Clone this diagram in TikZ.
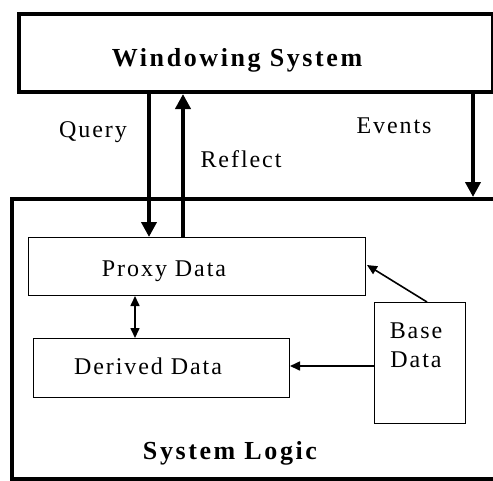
\documentclass[tikz,border=0pt]{standalone}
\usepackage{fontspec}
\setmainfont{Liberation Serif}
\newfontfamily\labelfont[LetterSpace=8]{Liberation Serif}
\newfontfamily\titlefont[LetterSpace=10]{Liberation Serif}
\usetikzlibrary{arrows.meta}

\tikzset{
  outerbox/.style={draw, line width=4pt, rectangle, inner sep=0pt, anchor=north west},
  innerbox/.style={draw, line width=1pt, rectangle, inner sep=0pt, anchor=north west},
  txt/.style={anchor=base, inner sep=0pt, font=\labelfont\fontsize{24}{29}\selectfont},
  title/.style={anchor=base, inner sep=0pt, font=\titlefont\fontsize{26}{31}\selectfont\bfseries},
  bigarrow/.style={line width=4pt, -{Triangle[length=15pt, width=15pt]}},
  smallarrow/.style={line width=1.6pt, -{Triangle[length=10pt, width=9pt]}},
  smallboth/.style={line width=1.6pt, {Triangle[length=10pt, width=9pt]}-{Triangle[length=10pt, width=9pt]}}
}

\begin{document}
\begin{tikzpicture}[x=1pt, y=-1pt]
  \useasboundingbox (0,0) rectangle (493,480);
  \clip (0,0) rectangle (493,480);

  % top block
  \node[outerbox, minimum width=474pt, minimum height=78pt] (ws) at (17,12) {};
  \node[title] (wst) at (237,66) {Windowing System};

  % lower block, running past the right edge
  \node[outerbox, minimum width=500pt, minimum height=280pt] (sl) at (10,197) {};
  \node[title] (slt) at (230,459) {System Logic};

  % inner data boxes
  \node[innerbox, minimum width=337pt, minimum height=58pt] (proxy) at (28,237) {};
  \node[txt] (proxyt) at (164,276) {Proxy Data};
  \node[innerbox, minimum width=256pt, minimum height=59pt] (derived) at (33,338) {};
  \node[txt] (derivedt) at (148,374) {Derived Data};
  \node[innerbox, minimum width=91pt, minimum height=121pt] (base) at (374,302) {};
  \node[txt] (baset1) at (416,338) {Base};
  \node[txt] (baset2) at (416,367) {Data};

  % arrow labels
  \node[txt] (query) at (93,137) {Query};
  \node[txt] (reflect) at (241,167) {Reflect};
  \node[txt] (events) at (394,133) {Events};

  % connector end points
  \coordinate (qx) at (149,0);
  \coordinate (rx) at (183,0);
  \coordinate (ex) at (473,0);
  \coordinate (dx) at (135,0);
  \coordinate (bp) at (427,0);
  \coordinate (pt) at (367,265);

  % thick arrows between the blocks
  \draw[bigarrow] (ws.south -| qx) -- (proxy.north -| qx);
  \draw[bigarrow] (proxy.north -| rx) -- (ws.south -| rx);
  \draw[bigarrow] (ws.south -| ex) -- (sl.north -| ex);

  % thin arrows between the data boxes
  \draw[smallboth] (proxy.south -| dx) -- (derived.north -| dx);
  \draw[smallarrow] (base.north -| bp) -- (pt);
  \draw[smallarrow] (base.west |- 0,366) -- (derived.east |- 0,366);
\end{tikzpicture}
\end{document}
